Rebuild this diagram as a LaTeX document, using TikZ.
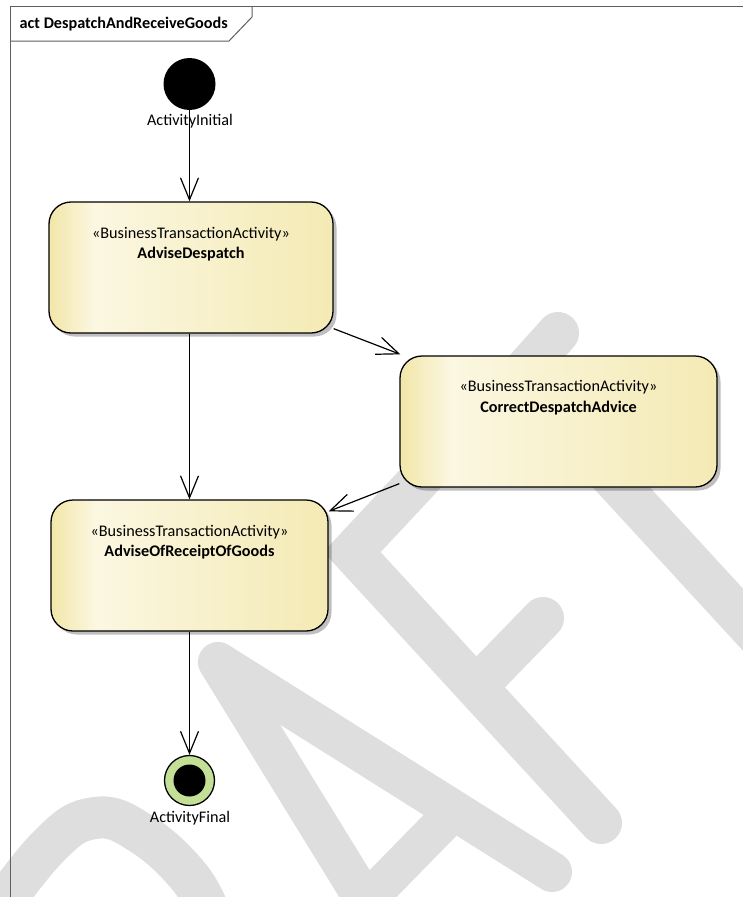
\documentclass[tikz,border=0pt]{standalone}
\usepackage{fontspec}
\setmainfont{Carlito}
\usetikzlibrary{arrows.meta,calc,shadows}
\definecolor{wmgray}{RGB}{222,222,222}
\definecolor{boxA}{RGB}{242,230,168}
\definecolor{boxL}{RGB}{251,247,225}
\definecolor{boxR}{RGB}{244,234,180}
\definecolor{finalgreen}{RGB}{196,224,150}
\definecolor{framegray}{RGB}{95,95,95}
\pgfdeclarehorizontalshading{actshade}{100bp}{color(0bp)=(boxA); color(25bp)=(boxA); color(33bp)=(boxL); color(75bp)=(boxR); color(100bp)=(boxR)}
\tikzset{
  wm/.style={draw=wmgray, line width=42bp},
  actbox/.style={draw=black, line width=1.3bp, rounded corners=22bp, shade, shading=actshade,
    minimum height=131bp, inner sep=0pt,
    drop shadow={shadow xshift=3.5bp, shadow yshift=-3.5bp, opacity=0.25, fill=black}},
  stertext/.style={font=\fontsize{16.2bp}{19bp}\selectfont, inner sep=0pt},
  nametext/.style={font=\fontsize{16.2bp}{19bp}\selectfont\bfseries, inner sep=0pt},
  lbltext/.style={font=\fontsize{16.2bp}{19bp}\selectfont, inner sep=0pt},
  arr/.style={draw=black, line width=1.2bp, -{Straight Barb[length=22bp,width=18bp,line width=1.2bp]}},
  framepen/.style={draw=framegray, line width=1bp},
}
\begin{document}
\begin{tikzpicture}[x=1bp,y=-1bp]
\useasboundingbox (0,0) rectangle (743,897);
\fill[white] (0,0) rectangle (743,897);
% watermark DRAFT
\begin{scope}
\clip (0,0) rectangle (743,897);
\draw[wm, line cap=round] plot[smooth, tension=0.7] coordinates {(-20,935) (47,848) (95,818) (142,834) (190,878) (212,920)};
\draw[wm, line width=40bp, line join=round, line cap=round] (383,930) -- (218,662) -- (552,872);
\draw[wm, line width=38bp] (366,901) -- (458,807);
\draw[wm, line join=miter, line cap=round] (450,447) -- (352,552) -- (601,823);
\draw[wm, line cap=round] (476,687) -- (543,618);
\draw[wm, line cap=round] (480,420) -- (558,333);
\draw[wm] (518,375) -- (850,736);
\end{scope}
% frame
\draw[framepen] (10.5,897) -- (10.5,6.5) -- (743,6.5);
\draw[framepen] (10.5,41) -- (229,41) -- (252,17) -- (252,6.5);
\node[anchor=west, nametext] (title) at (19.5,24.5) {act DespatchAndReceiveGoods};
% nodes
\node[circle, fill=black, minimum size=52bp, inner sep=0pt] (init) at (189.5,84) {};
\node[lbltext] (initlbl) at (190,121) {ActivityInitial};
\node[actbox, minimum width=284bp] (AD) at (191,267.5) {};
\node[stertext] (ADs) at ([yshift=-33bp]AD.north) {«BusinessTransactionActivity»};
\node[nametext] (ADn) at ([yshift=-53bp]AD.north) {AdviseDespatch};
\node[actbox, minimum width=317bp] (CDA) at (558.5,421.5) {};
\node[stertext] (CDAs) at ([yshift=-32bp]CDA.north) {«BusinessTransactionActivity»};
\node[nametext] (CDAn) at ([yshift=-53bp]CDA.north) {CorrectDespatchAdvice};
\node[actbox, minimum width=277bp] (AOR) at (189.5,565.5) {};
\node[stertext] (AORs) at ([yshift=-33bp]AOR.north) {«BusinessTransactionActivity»};
\node[nametext] (AORn) at ([yshift=-53bp]AOR.north) {AdviseOfReceiptOfGoods};
\node[circle, draw=black, line width=1.3bp, fill=finalgreen, minimum size=50bp, inner sep=0pt] (fin) at (189.5,780.5) {};
\node[circle, fill=black, minimum size=32bp, inner sep=0pt] (finin) at (fin.center) {};
\node[lbltext] (finlbl) at (190,818) {ActivityFinal};
% connectors
\draw[arr] (init.south) -- (init.south |- AD.north);
\draw[arr] (AOR.north |- AD.south) -- (AOR.north);
\draw[arr] ([yshift=5bp]AD.south east) -- ([xshift=1bp,yshift=1bp]CDA.north west);
\draw[arr] ([yshift=4bp]CDA.south west) -- ([yshift=-12bp]AOR.north east);
\draw[arr] (fin.north |- AOR.south) -- (fin.north);
\end{tikzpicture}
\end{document}
